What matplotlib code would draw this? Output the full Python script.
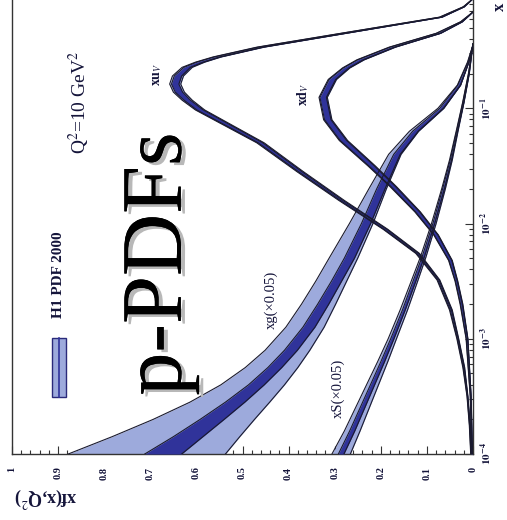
import numpy as np
import matplotlib
matplotlib.use('Agg')
import matplotlib.pyplot as plt
import matplotlib.patheffects as pe
from matplotlib.patches import Rectangle
from matplotlib.lines import Line2D
from matplotlib.ticker import MultipleLocator, FixedLocator, NullFormatter

plt.rcParams['font.family'] = ['Liberation Serif', 'DejaVu Serif']
plt.rcParams['mathtext.fontset'] = 'stix'

# H1 PDF 2000 at Q2 = 10 GeV2, values as (log10 x, xf) with band half-widths
logx_uv = [-4.0, -3.75, -3.5, -3.25, -3.0, -2.75, -2.49, -2.26, -2.05, -1.8, -1.55, -1.3, -1.15,
           -1.015, -0.93, -0.86, -0.79, -0.72, -0.645, -0.6, -0.555, -0.47, -0.34, -0.21, -0.12, -0.05]
xuv = [0.004, 0.007, 0.012, 0.02, 0.033, 0.048, 0.075, 0.12, 0.19, 0.285, 0.375, 0.461, 0.53,
       0.592, 0.62, 0.638, 0.646, 0.64, 0.62, 0.592, 0.555, 0.461, 0.266, 0.07, 0.02, 0.0]
xuv_tot = [0.001, 0.001, 0.001, 0.002, 0.002, 0.003, 0.003, 0.004, 0.005, 0.006, 0.007, 0.008, 0.009,
           0.01, 0.011, 0.012, 0.012, 0.012, 0.011, 0.01, 0.009, 0.008, 0.006, 0.003, 0.001, 0.0]
xuv_exp = [0.0005, 0.0005, 0.0005, 0.001, 0.001, 0.0015, 0.0015, 0.002, 0.003, 0.003, 0.004, 0.005, 0.006,
           0.007, 0.007, 0.008, 0.008, 0.008, 0.007, 0.007, 0.006, 0.005, 0.004, 0.002, 0.001, 0.0]

logx_dv = [-4.0, -3.5, -3.0, -2.7, -2.5, -2.32, -2.1, -1.9, -1.68, -1.5, -1.28, -1.1,
           -0.905, -0.75, -0.65, -0.58, -0.47, -0.35, -0.25, -0.165]
xdv = [0.002, 0.005, 0.013, 0.025, 0.036, 0.049, 0.08, 0.12, 0.173, 0.22, 0.281, 0.315,
       0.325, 0.305, 0.275, 0.244, 0.175, 0.075, 0.025, 0.0]
xdv_tot = [0.001, 0.001, 0.002, 0.003, 0.003, 0.004, 0.005, 0.006, 0.007, 0.008, 0.009, 0.009,
           0.009, 0.009, 0.008, 0.008, 0.007, 0.005, 0.002, 0.0]
xdv_exp = [0.0007, 0.0007, 0.0015, 0.002, 0.002, 0.003, 0.004, 0.0045, 0.005, 0.006, 0.007, 0.007,
           0.007, 0.007, 0.006, 0.006, 0.005, 0.004, 0.0015, 0.0]

logx_g = [-4.0, -3.85, -3.7, -3.55, -3.4, -3.25, -3.1, -2.9, -2.7, -2.5, -2.3, -2.0,
          -1.7, -1.4, -1.2, -1.0, -0.8, -0.6, -0.45]
xg = [0.672, 0.618, 0.566, 0.516, 0.470, 0.430, 0.395, 0.356, 0.325, 0.296, 0.268, 0.232,
      0.20, 0.165, 0.125, 0.068, 0.03, 0.01, 0.0]
xg_tot_up = [0.206, 0.165, 0.128, 0.098, 0.077, 0.064, 0.056, 0.05, 0.047, 0.045, 0.044, 0.036,
             0.026, 0.018, 0.013, 0.008, 0.004, 0.002, 0.0]
xg_tot_dn = [0.135, 0.112, 0.092, 0.075, 0.061, 0.05, 0.041, 0.033, 0.027, 0.022, 0.018, 0.015,
             0.012, 0.009, 0.007, 0.005, 0.003, 0.001, 0.0]
xg_exp = [0.04, 0.032, 0.026, 0.021, 0.017, 0.015, 0.014, 0.013, 0.012, 0.011, 0.011, 0.01,
          0.009, 0.007, 0.006, 0.004, 0.003, 0.001, 0.0]

logx_s = [-4.0, -3.8, -3.6, -3.4, -3.2, -3.0, -2.75, -2.5, -2.29, -2.0, -1.7, -1.45,
          -1.19, -0.95, -0.7, -0.44]
xs = [0.286, 0.262, 0.240, 0.218, 0.196, 0.175, 0.150, 0.127, 0.108, 0.085, 0.064, 0.048,
      0.034, 0.021, 0.009, 0.0]
xs_tot = [0.02, 0.017, 0.015, 0.013, 0.011, 0.009, 0.008, 0.007, 0.006, 0.005, 0.004, 0.003,
          0.002, 0.0015, 0.001, 0.0]
xs_exp = [0.006, 0.0055, 0.005, 0.0045, 0.004, 0.0035, 0.003, 0.003, 0.0025, 0.002, 0.002, 0.0015,
          0.001, 0.001, 0.0005, 0.0]

value_ticks = [0, 0.1, 0.2, 0.3, 0.4, 0.5, 0.6, 0.7, 0.8, 0.9, 1]
value_labels = ['0', '0.1', '0.2', '0.3', '0.4', '0.5', '0.6', '0.7', '0.8', '0.9', '1']
x_ticks = [1e-4, 1e-3, 1e-2, 1e-1]
x_labels = [r'$\mathbf{10^{-4}}$', r'$\mathbf{10^{-3}}$', r'$\mathbf{10^{-2}}$', r'$\mathbf{10^{-1}}$']

LIGHT = '#9daadc'
DARK = '#30339a'
EDGE = '#1a1a2e'
TXT = '#14143a'

W, H = 507, 520
fig = plt.figure(figsize=(W / 100, H / 100), dpi=100)
# axes in pixel terms: left 12, right 473, bottom 454, top -7
ax = fig.add_axes([12 / W, 66 / H, 461 / W, 461 / H])


def band(logx, centre, up, dn, exp, lw=0.8):
    xb = 10 ** np.array(logx)
    c = np.array(centre)
    hi, lo = c + np.array(up), c - np.array(dn)
    e = np.array(exp)
    ax.fill_betweenx(xb, lo, hi, color=LIGHT, lw=0, zorder=2)
    ax.fill_betweenx(xb, c - e, c + e, color=DARK, lw=0, zorder=3)
    for edge in (lo, hi, c - e, c + e):
        ax.plot(edge, xb, color=EDGE, lw=lw, zorder=4)


band(logx_g, xg, xg_tot_up, xg_tot_dn, xg_exp)
band(logx_s, xs, xs_tot, xs_tot, xs_exp)
band(logx_dv, xdv, xdv_tot, xdv_tot, xdv_exp)
band(logx_uv, xuv, xuv_tot, xuv_tot, xuv_exp)

ax.set_yscale('log')
ax.set_ylim(1e-4, 1)
ax.set_xlim(1, 0)

ax.xaxis.tick_bottom()
ax.xaxis.set_major_locator(FixedLocator(value_ticks))
ax.xaxis.set_minor_locator(MultipleLocator(0.02))
ax.set_xticklabels(value_labels, rotation=90, fontweight='bold', fontsize=7.5,
                   color=TXT, va='top', ha='center')
ax.yaxis.tick_right()
ax.yaxis.set_major_locator(FixedLocator(x_ticks))
ax.yaxis.set_minor_formatter(NullFormatter())
ax.set_yticklabels(x_labels, rotation=90, fontsize=8, color=TXT, va='center', ha='left')
ax.tick_params(which='both', direction='in', colors='#333333')
ax.tick_params(which='major', length=6, width=0.8)
ax.tick_params(which='minor', length=3, width=0.8)
ax.tick_params(axis='x', which='major', pad=9, labelcolor=TXT)
ax.tick_params(axis='y', which='major', pad=4, labelcolor=TXT)
for s in ax.spines.values():
    s.set_color('#333333')
    s.set_linewidth(1.0)


def px(xp, yp):
    return xp / W, 1 - yp / H


# curve labels
fig.text(*px(157, 74), 'xu$_V$', rotation=90, fontsize=10, fontweight='bold',
         color=TXT, ha='center', va='center')
fig.text(*px(303, 94), 'xd$_V$', rotation=90, fontsize=10, fontweight='bold',
         color=TXT, ha='center', va='center')
fig.text(*px(271, 300), 'xg(\u00d70.05)', rotation=90, fontsize=10.5,
         color=TXT, ha='center', va='center')
fig.text(*px(338, 388), 'xS(\u00d70.05)', rotation=90, fontsize=10.5,
         color=TXT, ha='center', va='center')
fig.text(*px(79, 102), 'Q$^2$=10 GeV$^2$', rotation=90, fontsize=14,
         color=TXT, ha='center', va='center')

# legend
fig.add_artist(Rectangle(px(52, 397), 14 / W, 59 / H, facecolor=LIGHT,
                         edgecolor='#2a2a7a', lw=1.0))
fig.add_artist(Line2D([59 / W, 59 / W], [1 - 397 / H, 1 - 338 / H],
                      color=DARK, lw=1.2))
fig.text(*px(59, 275), 'H1 PDF 2000', rotation=90, fontsize=11, fontweight='bold',
         color=TXT, ha='center', va='center')

# big title with grey drop shadow
fig.text(*px(160, 264), 'p-PDFs', rotation=90, fontsize=62, color='black',
         ha='center', va='center',
         path_effects=[pe.withSimplePatchShadow(offset=(3, -2), shadow_rgbFace='#b8b8b8', alpha=1.0),
                       pe.Normal()])

# axis titles
fig.text(*px(45, 497), 'xf(x,Q$^2$)', rotation=180, fontsize=13, fontweight='bold',
         color=TXT, ha='center', va='center')
fig.text(*px(500, 7), 'x', rotation=90, fontsize=12, fontweight='bold',
         color=TXT, ha='center', va='center')

fig.savefig('out.png', dpi=100)
